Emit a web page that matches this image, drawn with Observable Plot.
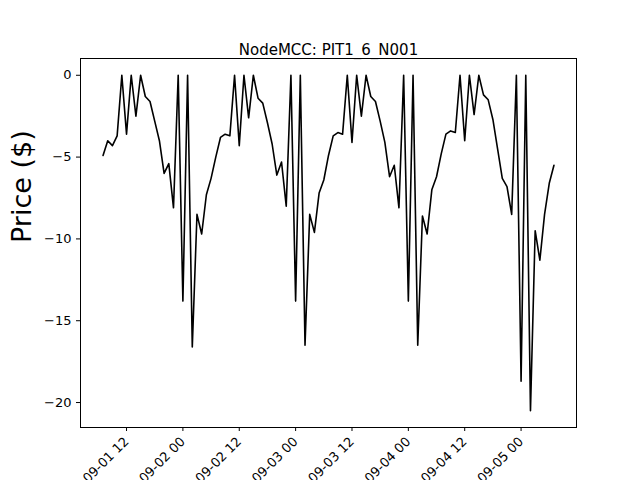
<!DOCTYPE html>
<html>
<head>
<meta charset="utf-8">
<script src="https://cdn.jsdelivr.net/npm/d3@7"></script>
<script src="https://cdn.jsdelivr.net/npm/@observablehq/plot@0.6"></script>
<style>body{margin:0;background:#fff}</style>
</head>
<body>
<div id="chart"></div>
<script>
// hourly prices starting 2019-09-01 07:00
const startHour = Date.UTC(2019, 8, 1, 7)
const day1 = [-4.9,-4.0,-4.3,-3.7,0,-3.6,0,-2.5,0,-1.3,-1.6,-2.8,-4.0,-6.0,-5.4,-8.1,0,-13.8,0,-16.6,-8.5,-9.7,-7.3,-6.3]
const day2 = [-5.0,-3.8,-3.6,-3.7,0,-4.3,0,-2.6,0,-1.4,-1.7,-2.9,-4.2,-6.1,-5.3,-8.0,0,-13.8,0,-16.5,-8.5,-9.6,-7.2,-6.4]
const day3 = [-4.9,-3.7,-3.5,-3.6,0,-4.1,0,-2.5,0,-1.3,-1.6,-2.8,-4.1,-6.2,-5.5,-8.1,0,-13.8,0,-16.5,-8.6,-9.7,-7.0,-6.2]
const day4 = [-4.8,-3.6,-3.4,-3.5,0,-4.0,0,-2.4,0,-1.2,-1.5,-2.7,-4.5,-6.3,-6.8,-8.5,0,-18.7,0,-20.5,-9.5,-11.3,-8.5,-6.6,-5.5]

const prices = [...day1, ...day2, ...day3, ...day4]
const data = prices.map((p, i) => ({t: new Date(startHour + i * 3600e3), price: p}))

const t0 = data[0].t, t1 = data[data.length - 1].t
const pad = (t1 - t0) * 0.05
const tickDates = d3.utcHour.every(12).range(new Date(+t0), new Date(+t1 + 1)).filter(d => d.getUTCHours() % 12 == 0)

let chart = Plot.plot({
  width: 640,
  height: 480,
  marginLeft: 80,
  marginRight: 64,
  marginTop: 58,
  marginBottom: 53,
  x: {type: 'utc', domain: [new Date(+t0 - pad), new Date(+t1 + pad)]},
  y: {domain: [-21.525, 1.025]},
  style: {fontFamily: 'DejaVu Sans', fontSize: 13, color: 'black', background: 'white'},
  marks: [
    Plot.frame({stroke: 'black'}),
    Plot.axisX({ticks: tickDates, tickFormat: d3.utcFormat('%m-%d %H'), tickRotate: -45,
      tickSize: 4, label: null, fontSize: 13}),
    Plot.axisY({ticks: [0, -5, -10, -15, -20], tickSize: 4, label: null, fontSize: 13}),
    Plot.line(data, {x: 't', y: 'price', stroke: 'black', strokeWidth: 1.6}),
    Plot.text(['NodeMCC: PIT1_6_N001'], {frameAnchor: 'top', dy: -14, fontSize: 15}),
    Plot.text(['Price ($)'], {frameAnchor: 'left', dx: -58, rotate: -90, fontSize: 27}),
  ],
})
d3.select('#chart').append(() => chart)
</script>
</body>
</html>
